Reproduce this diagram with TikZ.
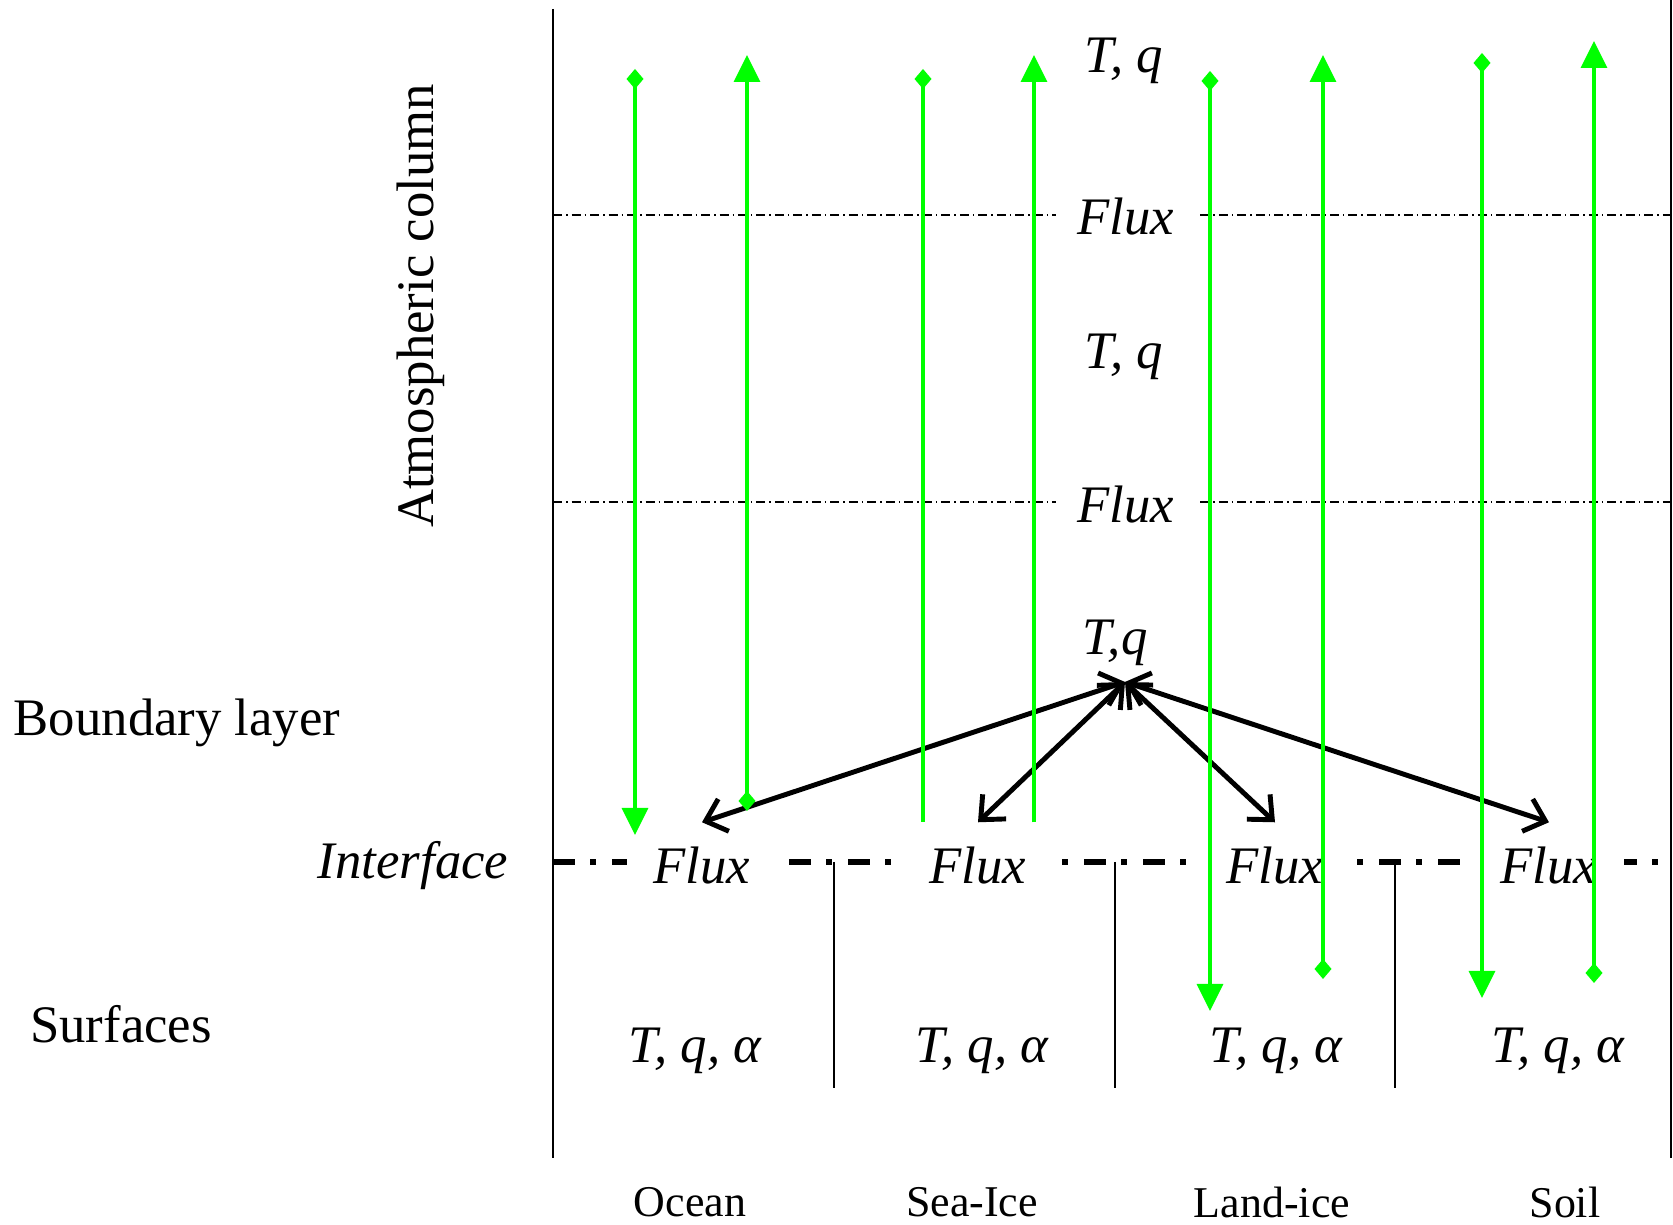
\documentclass[tikz,border=0pt]{standalone}
\usepackage{fontspec}
\setmainfont{Liberation Serif}
\usetikzlibrary{arrows.meta,positioning,calc}
\tikzset{lbl/.style={font=\fontsize{15}{18}\selectfont},
 it/.style={font=\fontsize{15}{18}\selectfont\itshape},
 cat/.style={font=\fontsize{12.5}{15}\selectfont},
 fx/.style={it,fill=white,inner sep=0pt,minimum width=15mm,minimum height=8.6mm},
 fxl/.style={it,fill=white,inner sep=0pt,minimum width=14.1mm,minimum height=7mm},
 wall/.style={line width=.6pt},
 lay/.style={line width=.4pt,dash pattern=on .9mm off .4mm on .15mm off .4mm},
 iface/.style={line width=1.6pt,dash pattern=on 2.2mm off 1.5mm on .6mm off 1.6mm},
 gr/.style={draw=green,line width=.9pt},
 gdt/.style={gr,{Diamond[length=2mm,width=1.7mm]}-{Triangle[length=2.7mm,width=2.6mm]}},
 bk/.style={{Straight Barb[length=1.9mm,width=3.4mm]}-{Straight Barb[length=1.9mm,width=3.4mm]},line width=1.4pt}}

\begin{document}
\begin{tikzpicture}[x=1cm,y=1cm]
\useasboundingbox (0,0) rectangle (16.73,12.25);
% frame and layers
\coordinate (lt) at (5.53,12.16);\coordinate (lb) at (5.53,.67);
\coordinate (rt) at (16.71,12.25);\coordinate (rb) at (16.71,.67);
\draw[wall](lt)--(lb);\draw[wall](rt)--(rb);
\foreach \y in {10.10,7.23}{\draw[lay](lb|-0,\y)--(rb|-0,\y);}
\draw[iface](lb|-0,3.63)--(rb|-0,3.63);
\foreach \x in {8.34,11.15,13.95}{\draw[wall](\x,3.63)--(\x,1.37);}
% atmosphere
\node[it] (tq1) at (11.24,11.64){T, q};
\node[fxl] (fa) at (11.26,10.08){Flux};
\node[it] (tq2) at (11.24,8.68){T, q};
\node[fxl] (fb) at (11.26,7.20){Flux};
\node[it] (tq3) at (11.15,5.82){T,q};
\coordinate (tqp) at (11.25,5.43);
% surfaces
\foreach \n/\x/\xs/\xc/\s in {1/7.02/6.95/6.90/Ocean,2/9.78/9.82/9.72/Sea-Ice,3/12.75/12.76/12.72/Land-ice,4/15.49/15.58/15.65/Soil}{
 \node[fx] (fl\n) at (\x,3.59){Flux};
 \node[it] (sv\n) at (\xs,1.74){T, q, α};
 \node[cat] (nm\n) at (\xc,.225){\s};
 \draw[bk](tqp)--(fl\n.north);}
\node[lbl,rotate=90] (atm) at (4.21,9.19){Atmospheric column};
\node[lbl] (bl) at (1.77,5.02){Boundary layer};
\node[it] (itf) at (4.13,3.59){Interface};
\node[lbl] (sf) at (1.21,2.01){Surfaces};
% radiation
\foreach \x/\a/\b in {6.35/11.56/3.90,7.47/4.14/11.70,12.10/11.54/2.14,13.23/2.46/11.70,14.82/11.72/2.27,15.94/2.42/11.84}{
 \coordinate (gs) at (\x,\a);\coordinate (ge) at (\x,\b);
 \draw[gdt](gs)--(ge);}
\coordinate (si1) at (9.23,11.56);\coordinate (si2) at (10.34,11.70);
\draw[gr,{Diamond[length=2mm,width=1.7mm]}-](si1)--(si1|-fl2.north);
\draw[gr,-{Triangle[length=2.7mm,width=2.6mm]}](si2|-fl2.north)--(si2);
\end{tikzpicture}
\end{document}
